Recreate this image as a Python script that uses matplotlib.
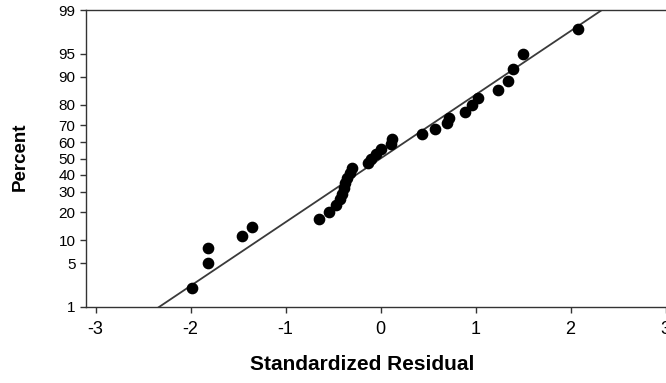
from statistics import NormalDist

import numpy as np
import matplotlib
matplotlib.use("Agg")
import matplotlib.pyplot as plt

plt.rcParams["font.family"] = ["Liberation Sans", "DejaVu Sans"]

# sorted standardized residuals
residuals = [-1.985, -1.817, -1.814, -1.456, -1.354, -0.648, -0.547, -0.466,
             -0.430, -0.410, -0.385, -0.370, -0.355, -0.325, -0.300, -0.130,
             -0.098, -0.045, 0.007, 0.113, 0.123, 0.436, 0.576, 0.705,
             0.716, 0.893, 0.963, 1.023, 1.240, 1.344, 1.397, 1.496, 2.078]
percent_ticks = [1, 5, 10, 20, 30, 40, 50, 60, 70, 80, 90, 95, 99]
x_ticks = [-3, -2, -1, 0, 1, 2, 3]
fit_mean, fit_sd = 0.0, 1.0

nd = NormalDist()
n = len(residuals)
# median ranks, as used for normal probability plots
ranks = [(i - 0.3) / (n + 0.4) for i in range(1, n + 1)]
z_pts = [nd.inv_cdf(p) for p in ranks]

fig = plt.figure(figsize=(6.66, 3.83), dpi=100)
ax = fig.add_axes([86 / 666, 1 - 306.7 / 383, 589 / 666, (306.7 - 10.3) / 383])

line_x = np.linspace(-3.2, 3.2, 50)
ax.plot(line_x, (line_x - fit_mean) / fit_sd, color="#3a3a3a", lw=1.3, zorder=2)
ax.plot(residuals, z_pts, "o", color="black", ms=7.4, zorder=3)

zlim = nd.inv_cdf(0.99)
ax.set_ylim(-zlim, zlim)
ax.set_xlim(-3.1, 3.1)
ax.set_yticks([nd.inv_cdf(p / 100) for p in percent_ticks])
ax.set_yticklabels([str(p) for p in percent_ticks])
ax.set_xticks(x_ticks)
ax.set_xticklabels([str(t) for t in x_ticks])

for side in ["left", "bottom", "top"]:
    ax.spines[side].set_color("#333333")
    ax.spines[side].set_linewidth(1.0)
ax.spines["right"].set_visible(False)
ax.tick_params(axis="y", length=4, width=1, color="#333333", pad=3.5, labelsize=11)
ax.tick_params(axis="x", length=4, width=1, color="#333333", pad=6, labelsize=13)

fig.text(362 / 666, 1 - 365 / 383, "Standardized Residual", ha="center", va="center",
         fontsize=15, fontweight="bold")
fig.text(20 / 666, 1 - 157 / 383, "Percent", ha="center", va="center", rotation=90,
         fontsize=13.5, fontweight="bold")

fig.savefig("out.png", dpi=100)
